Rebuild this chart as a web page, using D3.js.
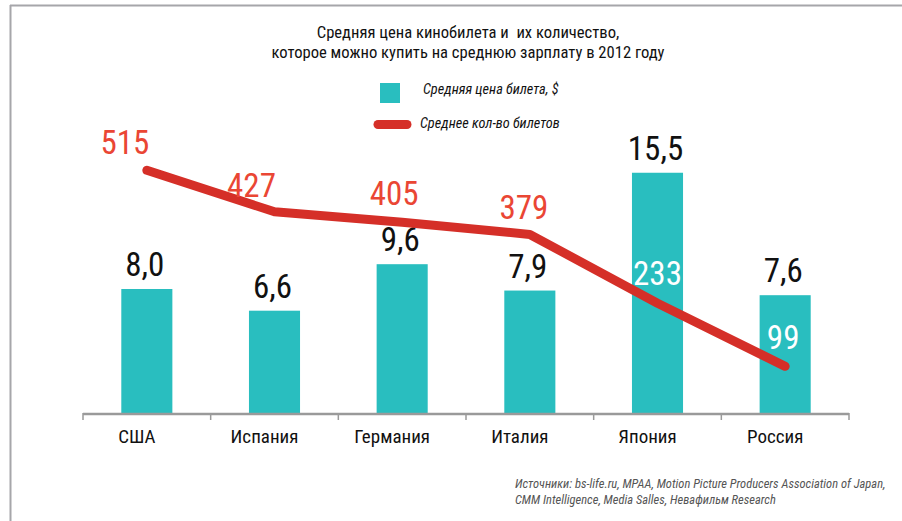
<!DOCTYPE html>
<html>
<head>
<meta charset="utf-8">
<script src="https://cdn.jsdelivr.net/npm/d3@7"></script>
<style>
  html, body { margin: 0; padding: 0; background: #fff; }
  svg { display: block; }
  .cond { font-family: "Liberation Sans Narrow", "Arial Narrow", "Roboto Condensed", "DejaVu Sans Condensed", sans-serif; }
</style>
</head>
<body>
<svg id="chart" width="902" height="521"></svg>
<script>
// ---- data ----
const categories = ["США", "Испания", "Германия", "Италия", "Япония", "Россия"];
const ticketPrice = [8.0, 6.6, 9.6, 7.9, 15.5, 7.6];
const ticketCount = [515, 427, 405, 379, 233, 99];
const priceLabels = ["8,0", "6,6", "9,6", "7,9", "15,5", "7,6"];
const titleLines = ["Средняя цена кинобилета и  их количество,", "которое можно купить на среднюю зарплату в 2012 году"];
const legendLabels = ["Средняя цена билета, $", "Среднее кол-во билетов"];
const sourceLines = ["Источники: bs-life.ru, MPAA, Motion Picture Producers Association of Japan,", "CMM Intelligence, Media Salles, Невафильм Research"];

// ---- drawing ----
const svg = d3.select("#chart");
const W = 902, H = 521;
const base = 413;
const barColor = "#29bebf";
const lineColor = "#d52f28";
const labelRed = "#ea4634";

// frame
svg.append("line").attr("x1", 10).attr("x2", W).attr("y1", 5.5).attr("y2", 5.5)
  .attr("stroke", "#a6a6aa").attr("stroke-width", 2);
svg.append("line").attr("x1", 10.5).attr("x2", 10.5).attr("y1", 5).attr("y2", H)
  .attr("stroke", "#a6a6aa").attr("stroke-width", 2);

const x = d3.scaleBand().domain(categories).range([83, 849]).paddingInner(0.6).paddingOuter(0.3);
const y = d3.scaleLinear().domain([0, 16]).range([base, base - 16 * 15.5]);
const y2 = d3.scaleLinear().domain([0, 540]).range([base, base - 540 * 0.4712]);
const cx = c => x(c) + x.bandwidth() / 2;

// title
const title = svg.append("text").attr("class", "cond").attr("text-anchor", "middle")
  .attr("font-size", 16.6).attr("fill", "#111").style("white-space", "pre");
titleLines.forEach((t, i) => title.append("tspan").attr("x", 468).attr("y", 38 + i * 19.5).text(t));

// legend
svg.append("rect").attr("x", 380).attr("y", 83).attr("width", 20).attr("height", 20).attr("fill", barColor);
svg.append("line").attr("x1", 378).attr("x2", 407).attr("y1", 124.5).attr("y2", 124.5)
  .attr("stroke", lineColor).attr("stroke-width", 9).attr("stroke-linecap", "round");
svg.selectAll("text.leg").data(legendLabels).enter().append("text")
  .attr("class", "cond leg").attr("x", (d, i) => i === 0 ? 423 : 420).attr("y", (d, i) => i === 0 ? 94 : 128)
  .attr("font-size", 14.3).attr("font-style", "italic").attr("fill", "#111").text(d => d);

// bars
svg.selectAll("rect.bar").data(categories).enter().append("rect")
  .attr("class", "bar")
  .attr("x", c => x(c)).attr("width", x.bandwidth())
  .attr("y", (c, i) => y(ticketPrice[i])).attr("height", (c, i) => base - y(ticketPrice[i]))
  .attr("fill", barColor);

// bar labels
svg.selectAll("text.bl").data(categories).enter().append("text")
  .attr("class", "cond bl").attr("text-anchor", "middle")
  .attr("x", c => cx(c) - 2).attr("y", (c, i) => y(ticketPrice[i]) - 13)
  .attr("font-size", 33).attr("fill", "#111").text((c, i) => priceLabels[i]);

// axis
const step = x.step();
const bounds = categories.map(c => x(c) - step * x.paddingInner() / 2).concat([849]);
svg.append("line").attr("x1", 83).attr("x2", 849).attr("y1", base + 1).attr("y2", base + 1)
  .attr("stroke", "#9a9a9a").attr("stroke-width", 2.5);
svg.selectAll("line.tk").data(bounds).enter().append("line").attr("class", "tk")
  .attr("x1", d => d).attr("x2", d => d).attr("y1", base).attr("y2", base + 7)
  .attr("stroke", "#9a9a9a").attr("stroke-width", 1.5);
const axis = svg.append("g").attr("transform", `translate(0,${base})`)
  .call(d3.axisBottom(x).tickSize(0).tickPadding(0));
axis.select(".domain").remove();
axis.selectAll("text").attr("class", "cond").attr("font-size", 19).attr("fill", "#111")
  .attr("dx", -10).attr("dy", 0).attr("y", 30);
axis.attr("font-family", null);

// line
const line = d3.line().x(d => cx(d.c)).y(d => y2(d.v));
const pts = categories.map((c, i) => ({ c, v: ticketCount[i] }));
svg.append("path").datum(pts).attr("d", line).attr("fill", "none")
  .attr("stroke", lineColor).attr("stroke-width", 9)
  .attr("stroke-linecap", "round").attr("stroke-linejoin", "round");

// line labels
const lblDx = [-22, -23, -8, -6, 0, -2];
const lblDy = [-16, -15, -17, -15, -18, -17];
svg.selectAll("text.ll").data(pts).enter().append("text")
  .attr("class", "cond ll").attr("text-anchor", "middle")
  .attr("x", (d, i) => cx(d.c) + lblDx[i]).attr("y", (d, i) => y2(d.v) + lblDy[i])
  .attr("font-size", 33)
  .attr("fill", (d, i) => i >= 4 ? "#ffffff" : labelRed)
  .text(d => d.v);

// source
const src = svg.append("text").attr("class", "cond").attr("font-size", 12.5)
  .attr("font-style", "italic").attr("fill", "#555");
sourceLines.forEach((t, i) => src.append("tspan").attr("x", 515).attr("y", 488 + i * 16).text(t));
</script>
</body>
</html>
